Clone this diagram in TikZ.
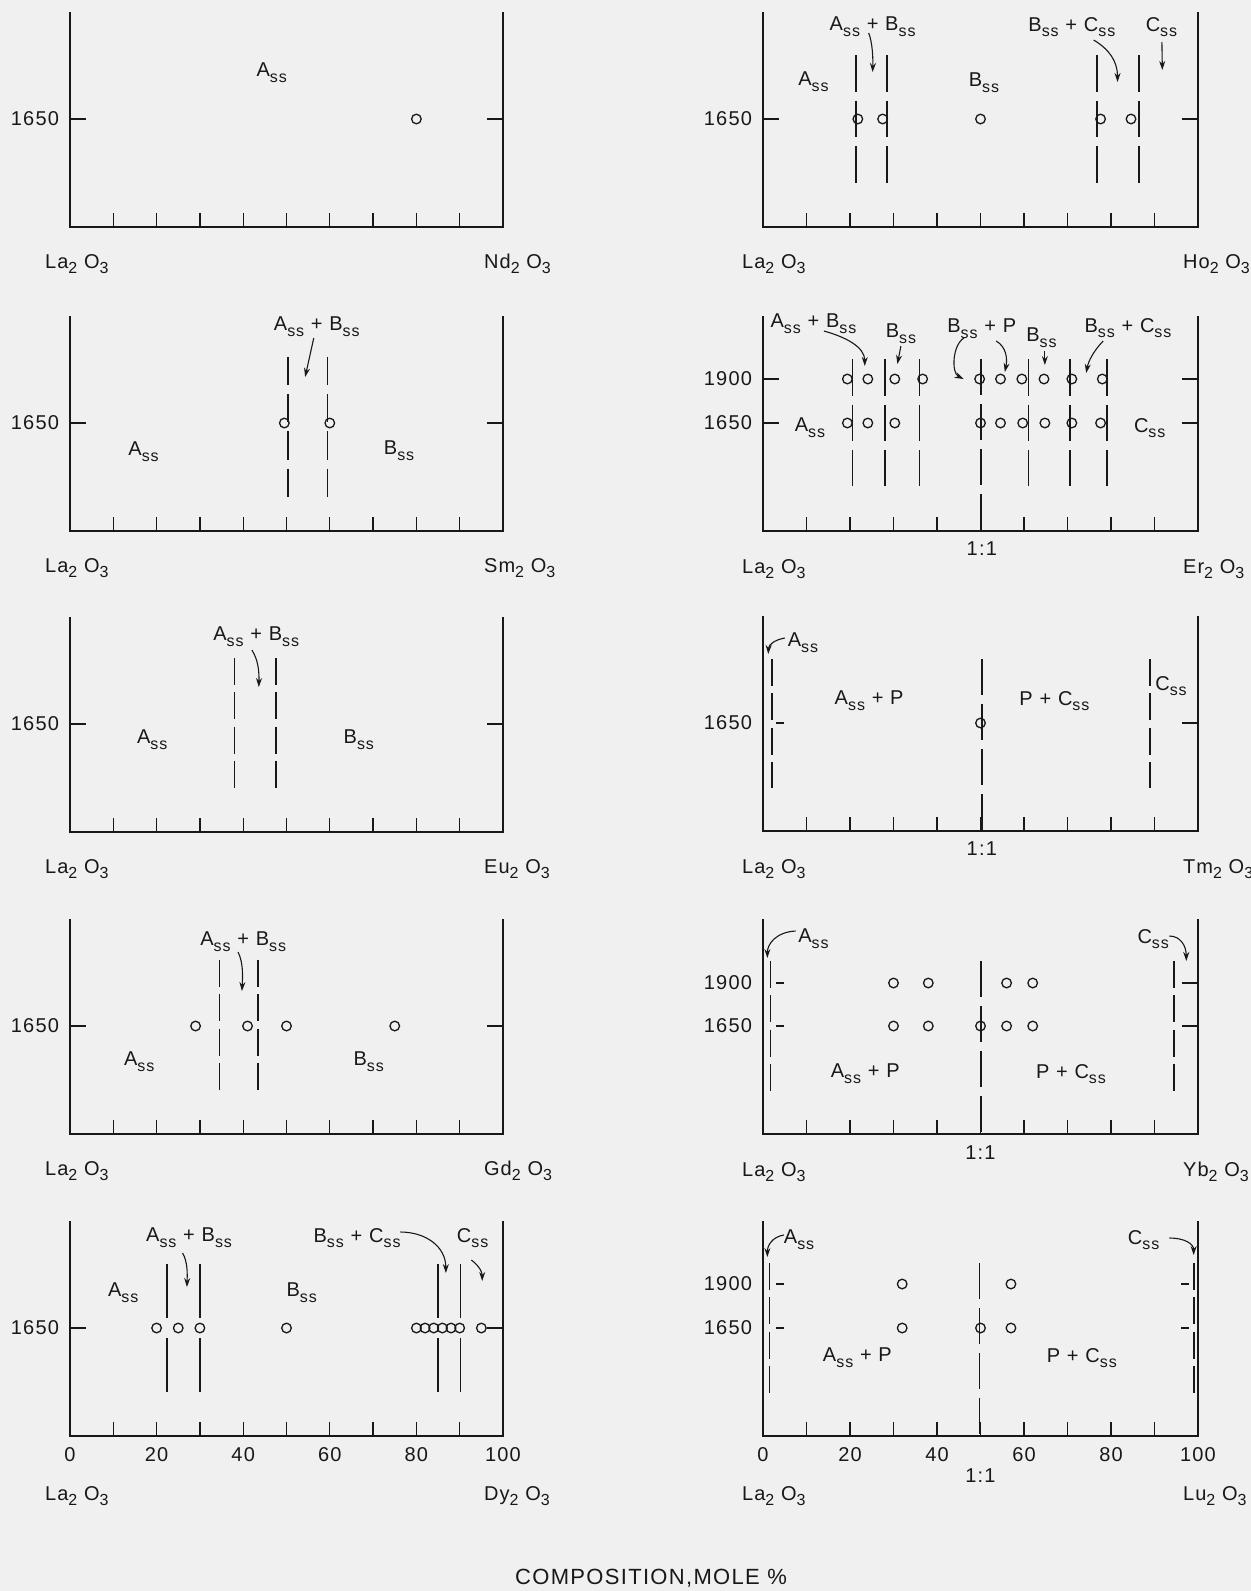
\documentclass[tikz,border=0pt]{standalone}
\usepackage{fontspec}
\setmainfont{Liberation Sans}[LetterSpace=6]
\usetikzlibrary{arrows.meta}
\definecolor{bg}{HTML}{F0F0F0}
\definecolor{ink}{HTML}{181818}
\newcommand\lbl{\fontsize{10}{12}\selectfont}
\newcommand\lsub[1]{\raisebox{-0.55ex}{\fontsize{8}{9}\selectfont #1}}
\newcommand\Ass{A\lsub{ss}}
\newcommand\Bss{B\lsub{ss}}
\newcommand\Css{C\lsub{ss}}
\newcommand\oxide[1]{#1\lsub{2} O\lsub{3}}
\newcommand\pframe{\draw[axis] (0,-107) -- (0,108) -- (100,108) -- (100,-107);
  \foreach \t in {10,20,...,90}{\draw[tk] (\t,108) -- (\t,94);}}
\newcommand\tmark[3]{\draw[tk] (0,#2) -- ++(8pt,0pt); \draw[tk] (100,#2) -- ++(-8pt,0pt);
  \node[anchor=east] (#1) at ([xshift=-5.5pt]0,#2) {#3};}
\newcommand\tmarkL[3]{\draw[tk] ([xshift=6.5pt]0,#2) -- ++(4pt,0pt); \draw[tk] (100,#2) -- ++(-8pt,0pt);
  \node[anchor=east] (#1) at ([xshift=-5.5pt]0,#2) {#3};}
\newcommand\tmarkLR[3]{\draw[tk] ([xshift=6.5pt]0,#2) -- ++(4pt,0pt); \draw[tk] ([xshift=-4.5pt]100,#2) -- ++(-4pt,0pt);
  \node[anchor=east] (#1) at ([xshift=-5.5pt]0,#2) {#3};}
\newcommand\circs[2]{\foreach \p in {#2}{\draw[cir] (\p,#1) circle[radius=2.4pt];}}
\newcommand\vl[4]{\foreach \p in {#4}{\draw[#1] (\p,#2) -- (\p,#3);}}
\newcommand\arrw[5]{\coordinate (#1s) at (#2); \coordinate (#1e) at (#5); \draw[arr] (#1s) .. controls (#3) and (#4) .. (#1e);}
\newcommand\sarrw[3]{\coordinate (#1s) at (#2); \coordinate (#1e) at (#3); \draw[arr] (#1s) -- (#1e);}
\newcommand\botlabels[5]{%
  \node[anchor=base west] (#1l) at ([xshift=#2]0,#5) {\oxide{La}};
  \node[anchor=base west] (#1r) at ([xshift=#3]100,#5) {\oxide{#4}};}
\begin{document}
\begin{tikzpicture}[x=0.5pt,y=-0.5pt,
 every node/.style={inner sep=0pt,outer sep=0pt,text=ink,font=\lbl},
 axis/.style={draw=ink,line width=1.45pt,line join=miter},
 tk/.style={draw=ink,line width=0.65pt},
 pl/.style={draw=ink,line width=0.85pt},
 dA/.style={pl,dash pattern=on 13.5pt off 3.65pt},
 dS/.style={pl,dash pattern=on 14.1pt off 4.5pt},
 dB/.style={pl,dash pattern=on 18.3pt off 4.5pt},
 dC/.style={pl,dash pattern=on 27pt off 10pt},
 dD/.style={pl,dash pattern=on 18pt off 4.5pt},
 cir/.style={draw=ink,line width=0.65pt},
 arr/.style={draw=ink,line width=0.55pt,-{Stealth[length=4.5pt,width=3pt]}}]
\fill[bg] (0,0) rectangle (1251,1591);
\useasboundingbox (0,0) rectangle (1251,1591);

% ---------- L1 Nd
\begin{scope}[shift={(35pt,-59.5pt)},x=2.165pt,y=-0.5pt]
\pframe \tmark{nd-t}{0}{1650}
\node (nd-a) at (46.6,-46) {\Ass};
\circs{0}{80}
\botlabels{nd-}{-12.5pt}{-9.5pt}{Nd}{149}
\end{scope}

% ---------- L2 Sm
\begin{scope}[shift={(35pt,-211.5pt)},x=2.165pt,y=-0.5pt]
\pframe \tmark{sm-t}{0}{1650}
\node (sm-a) at (17,29) {\Ass};
\node (sm-b) at (76,28) {\Bss};
\node (sm-ab) at (57,-96) {\Ass\ + \Bss};
\sarrw{sm-x}{56.3,-85}{54.3,-46}
\vl{dS}{-66}{74}{50.3,59.5}
\circs{0}{49.5,60}
\botlabels{sm-}{-12.5pt}{-9.5pt}{Sm}{149}
\end{scope}

% ---------- L3 Eu
\begin{scope}[shift={(35pt,-362pt)},x=2.165pt,y=-0.5pt]
\pframe \tmark{eu-t}{0}{1650}
\node (eu-a) at (19,16) {\Ass};
\node (eu-b) at (66.7,16) {\Bss};
\node (eu-ab) at (43,-87) {\Ass\ + \Bss};
\arrw{eu-x}{42,-74}{43.5,-64}{43.7,-52}{43.6,-37}
\vl{dA}{-66}{64}{38,47.5}
\botlabels{eu-}{-12.5pt}{-9.5pt}{Eu}{149}
\end{scope}

% ---------- L4 Gd
\begin{scope}[shift={(35pt,-513pt)},x=2.165pt,y=-0.5pt]
\pframe \tmark{gd-t}{0}{1650}
\node (gd-a) at (16,36) {\Ass};
\node (gd-b) at (69,36) {\Bss};
\node (gd-ab) at (40,-84) {\Ass\ + \Bss};
\arrw{gd-x}{38.8,-74}{40,-64}{39.9,-50}{39.7,-35}
\vl{dA}{-66}{64}{34.5,43.4}
\circs{0}{29,41,50,75}
\botlabels{gd-}{-12.5pt}{-9.5pt}{Gd}{149}
\end{scope}

% ---------- L5 Dy
\begin{scope}[shift={(35pt,-664pt)},x=2.165pt,y=-0.5pt]
\pframe \tmark{dy-t}{0}{1650}
\foreach \v in {0,20,...,100}{\node (dy-n\v) at (\v,127) {\v};}
\node (dy-a) at (12.3,-35) {\Ass};
\node (dy-b) at (53.5,-35) {\Bss};
\node (dy-ab) at (27.5,-90) {\Ass\ + \Bss};
\node (dy-bc) at (66.3,-90) {\Bss\ + \Css};
\node (dy-c) at (93,-90) {\Css};
\arrw{dy-x}{26,-75}{27.2,-66}{27.1,-54}{27,-41}
\arrw{dy-y}{76.3,-96}{82,-96}{86.8,-82}{86.8,-55}
\arrw{dy-z}{92.7,-68}{94.5,-62}{95.2,-56}{95.2,-47}
\vl{dC}{-64}{66}{22.4,30,85,90.2}
\circs{0}{20,25,30,50,80,82,84,86,88,90,95}
\botlabels{dy-}{-12.5pt}{-9.5pt}{Dy}{172}
\end{scope}

% ---------- R1 Ho
\begin{scope}[shift={(381.5pt,-59.5pt)},x=2.175pt,y=-0.5pt]
\pframe \tmark{ho-t}{0}{1650}
\node (ho-a) at (11.6,-37) {\Ass};
\node (ho-b) at (50.8,-36) {\Bss};
\node (ho-ab) at (25.2,-92) {\Ass\ + \Bss};
\node (ho-bc) at (71,-92) {\Bss\ + \Css};
\node (ho-c) at (91.6,-92) {\Css};
\arrw{ho-x}{24.3,-86}{25.2,-76}{25.3,-60}{25.2,-47}
\arrw{ho-y}{76,-79}{79.5,-70}{81.5,-58}{81.5,-37}
\sarrw{ho-z}{91.7,-77}{91.8,-49}
\vl{dB}{-64}{64}{21.3,28.5,76.8,86.5}
\circs{0}{21.8,27.5,50,77.6,84.6}
\botlabels{ho-}{-10.5pt}{-7.5pt}{Ho}{149}
\end{scope}

% ---------- R2 Er
\begin{scope}[shift={(381.5pt,-211.5pt)},x=2.175pt,y=-0.5pt]
\pframe \tmark{er-t1}{-44}{1900} \tmark{er-t2}{0}{1650}
\node (er-ab) at (11.6,-99) {\Ass\ + \Bss};
\node (er-b1) at (31.7,-89) {\Bss};
\node (er-bp) at (50.3,-94) {\Bss\ + P};
\node (er-b2) at (64,-85) {\Bss};
\node (er-bc) at (83.9,-95) {\Bss\ + \Css};
\node (er-a) at (10.8,5) {\Ass};
\node (er-c) at (88.9,5) {\Css};
\node (er-r) at (50.3,126) {1:1};
\arrw{er-x}{14,-92}{19,-86}{23.4,-76}{23.4,-57}
\sarrw{er-y}{31.7,-77}{30.9,-59}
\arrw{er-p}{46.2,-85}{43.5,-78}{43.3,-50}{46.1,-44}
\arrw{er-q}{53.6,-82}{56,-76}{56.2,-64}{55.6,-51}
\sarrw{er-z}{64.8,-72}{64.8,-58}
\arrw{er-w}{78.2,-82}{76,-72}{74.8,-62}{74.3,-50}
\vl{dB}{-64}{63}{20.6,28,36,61,70.6,79}
\vl{dD}{-64}{107}{50.1}
\circs{-44}{19.4,24.1,30.3,36.7,49.8,54.6,59.5,64.6,71,78}
\circs{0}{19.4,24.1,30.3,50,54.6,59.7,64.8,71,77.6}
\botlabels{er-}{-10.5pt}{-7.5pt}{Er}{150}
\end{scope}

% ---------- R3 Tm
\begin{scope}[shift={(381.5pt,-361.5pt)},x=2.175pt,y=-0.5pt]
\pframe \tmarkL{tm-t}{0}{1650}
\node (tm-a) at (9.2,-80) {\Ass};
\node (tm-ap) at (24.4,-22) {\Ass\ + P};
\node (tm-pc) at (67,-22) {P + \Css};
\node (tm-c) at (93.8,-37) {\Css};
\node (tm-r) at (50.3,126) {1:1};
\arrw{tm-x}{5,-85}{2.5,-83}{1.3,-78}{1.2,-69}
\vl{dA}{-64}{65}{2,89}
\vl{dD}{-64}{108}{50.3}
\circs{0}{50}
\botlabels{tm-}{-10.5pt}{-7.5pt}{Tm}{150}
\end{scope}

% ---------- R4 Yb
\begin{scope}[shift={(381.5pt,-513pt)},x=2.175pt,y=-0.5pt]
\pframe \tmarkL{yb-t1}{-43}{1900} \tmarkL{yb-t2}{0}{1650}
\node (yb-a) at (11.6,-87) {\Ass};
\node (yb-c) at (89.7,-87) {\Css};
\node (yb-ap) at (23.5,48) {\Ass\ + P};
\node (yb-pc) at (70.8,48) {P + \Css};
\node (yb-r) at (50,127) {1:1};
\arrw{yb-x}{7.5,-95}{3,-94}{1,-82}{1,-68}
\arrw{yb-y}{93.4,-90}{96,-90}{97.3,-80}{97.3,-65}
\vl{dA}{-65}{65}{1.7,94.5}
\vl{dD}{-65}{108}{50.1}
\circs{-43}{30,38,56,62}
\circs{0}{30,38,50,56,62}
\botlabels{yb-}{-10.5pt}{-7.5pt}{Yb}{150}
\end{scope}

% ---------- R5 Lu
\begin{scope}[shift={(381.5pt,-664pt)},x=2.175pt,y=-0.5pt]
\pframe \tmarkLR{lu-t1}{-44}{1900} \tmarkLR{lu-t2}{0}{1650}
\foreach \v in {0,20,...,100}{\node (lu-n\v) at (\v,127) {\v};}
\node (lu-a) at (8.3,-88) {\Ass};
\node (lu-c) at (87.5,-88) {\Css};
\node (lu-ap) at (21.7,30) {\Ass\ + P};
\node (lu-pc) at (73.3,30) {P + \Css};
\node (lu-r) at (50,148) {1:1};
\arrw{lu-x}{4.8,-93}{2,-91}{1,-82}{1,-71}
\arrw{lu-y}{93.4,-90}{97,-90}{99,-84}{99,-73}
\vl{dA}{-65}{67}{1.5,99}
\vl{dD}{-65}{107}{49.8}
\circs{-44}{32,57}
\circs{0}{32,50,57}
\botlabels{lu-}{-10.5pt}{-7.5pt}{Lu}{172}
\end{scope}

\node[font=\fontsize{11}{13}\selectfont] (title) at (651,1578) {COMPOSITION,MOLE \%};
\end{tikzpicture}
\end{document}
